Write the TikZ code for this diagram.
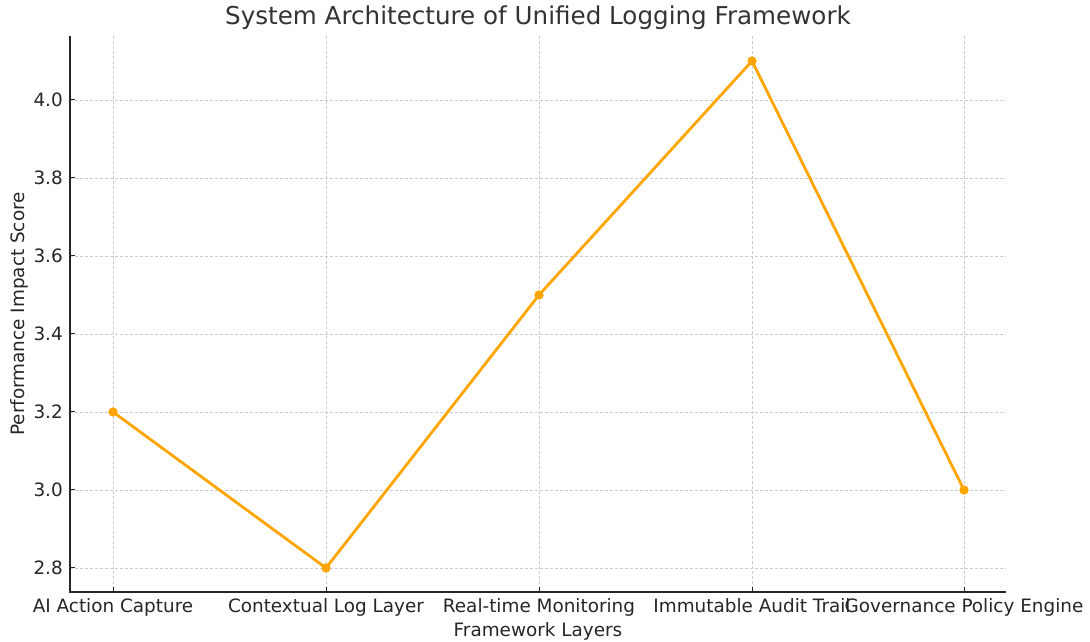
\documentclass[tikz,border=0pt]{standalone}
\usepackage{fontspec}
\setmainfont{DejaVu Sans}
\definecolor{mplorange}{RGB}{255,165,0}
\definecolor{gridgray}{RGB}{204,204,204}
\definecolor{spinegray}{RGB}{38,38,38}
\definecolor{titlegray}{RGB}{51,51,51}
\begin{document}
\begin{tikzpicture}[x=1pt,y=1pt,
  gridline/.style={draw=gridgray,line width=0.8pt,dash pattern=on 3pt off 2pt},
  spine/.style={draw=spinegray,line width=1.2pt},
  tickmark/.style={draw=spinegray,line width=1pt},
  ticklabel/.style={font=\fontsize{18.4}{21}\selectfont,text=spinegray,inner sep=0pt},
  axlabel/.style={font=\fontsize{18.4}{21}\selectfont,text=spinegray,inner sep=0pt},
  titlestyle/.style={font=\fontsize{24.6}{28}\selectfont,text=titlegray,inner sep=0pt},
  datapt/.style={circle,fill=mplorange,inner sep=0pt,minimum size=9pt},
  series/.style={draw=mplorange,line width=2.8pt,line join=round}
]
\useasboundingbox (0,0) rectangle (1090,642);
% grid
\foreach \px in {113,326,539,752,964} \draw[gridline] (\px,642-36) -- (\px,642-592);
\foreach \py in {100,178,256,334,412,490,568} \draw[gridline] (70,642-\py) -- (1006,642-\py);
% spines
\coordinate (ytop) at (70,642-36);
\coordinate (orig) at (70,642-592);
\coordinate (xend) at (1006,642-592);
\draw[spine] (ytop) -- (orig) -- (xend);
% ticks
\foreach \px in {113,326,539,752,964} \draw[tickmark] (\px,642-592) -- (\px,642-587);
\foreach \py in {100,178,256,334,412,490,568} \draw[tickmark] (70,642-\py) -- (75,642-\py);
% y tick labels
\foreach \py/\lab in {100/4.0,178/3.8,256/3.6,334/3.4,412/3.2,490/3.0,568/2.8}
  \node[ticklabel,anchor=east] (yl\py) at (63,642-\py) {\lab};
% x tick labels
\node[ticklabel,anchor=base] (xl1) at (113,642-613) {AI Action Capture};
\node[ticklabel,anchor=base] (xl2) at (326,642-613) {Contextual Log Layer};
\node[ticklabel,anchor=base] (xl3) at (539,642-613) {Real-time Monitoring};
\node[ticklabel,anchor=base] (xl4) at (752,642-613) {Immutable Audit Trail};
\node[ticklabel,anchor=base] (xl5) at (964,642-613) {Governance Policy Engine};
% axis labels
\node[axlabel,anchor=base] (xlab) at (538,642-637) {Framework Layers};
\node[axlabel,rotate=90] (ylab) at (19,642-314) {Performance Impact Score};
\node[titlestyle] (title) at (538,642-18) {System Architecture of Unified Logging Framework};
% data
\node[datapt] (p1) at (113,642-412) {};
\node[datapt] (p2) at (326,642-568) {};
\node[datapt] (p3) at (539,642-295) {};
\node[datapt] (p4) at (752,642-61) {};
\node[datapt] (p5) at (964,642-490) {};
\draw[series] (p1.center) -- (p2.center) -- (p3.center) -- (p4.center) -- (p5.center);
\foreach \n in {p1,p2,p3,p4,p5} \fill[mplorange] (\n) circle (4.5pt);
\end{tikzpicture}
\end{document}
